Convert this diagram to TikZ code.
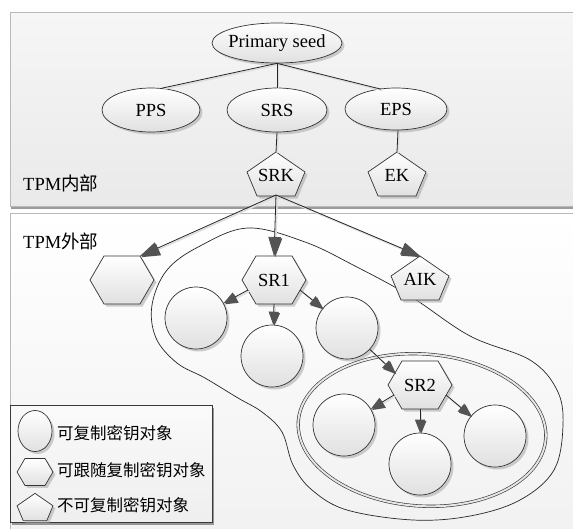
\documentclass[tikz,border=0pt]{standalone}
\usepackage{fontspec}
\setmainfont{Liberation Serif}
\newfontfamily\cjk{Noto Sans CJK SC}
\usetikzlibrary{shapes.geometric,shadows,arrows.meta,calc}

% pentagon key: [scale]{name}{x}{y}{label}
\newcommand\pentshape[5][1]{%
  \begin{scope}[shift={(#3,#4)}, scale=#1]
    \path[shapebox] (0,-22) -- (29,-2) -- (19,22) -- (-19,22) -- (-29,-2) -- cycle;
    \coordinate (#2-t) at (0,-22);
    \coordinate (#2-b) at (0,21);
    \node[lbl] (#2) at (0,1) {#5};
  \end{scope}}

% hexagon key: [scale]{name}{x}{y}{label}
\newcommand\hexshape[5][1]{%
  \begin{scope}[shift={(#3,#4)}, scale=#1]
    \path[shapebox] (-32,0) -- (-18,-24) -- (18,-24) -- (32,0) -- (18,24) -- (-18,24) -- cycle;
    \coordinate (#2-t) at (0,-24);
    \coordinate (#2-b) at (0,24);
    \coordinate (#2-bl) at (-26,10);
    \coordinate (#2-br) at (26,10);
    \coordinate (#2-tl) at (-25,-12);
    \coordinate (#2-tr) at (18,-24);
    \node[lbl] (#2) at (0,0) {#5};
  \end{scope}}

% connector with its light offset shadow
\newcommand\keylink[3][]{%
  \draw[lkshade,#1] (#2) -- (#3);
  \draw[lk,#1] (#2) -- (#3);}

\begin{document}
\begin{tikzpicture}[x=1pt,y=-1pt,
  shapebox/.style={draw=gray!40!black, line width=0.7pt, top color=white, bottom color=gray!24,
    drop shadow={shadow xshift=2.5pt, shadow yshift=-2.5pt, fill=gray!70, opacity=0.55}},
  lbl/.style={font=\fontsize{18.5}{20}\selectfont, inner sep=0pt},
  zh/.style={font=\fontsize{16.5}{18}\selectfont\cjk, inner sep=0pt, anchor=west},
  lkshade/.style={draw=gray!25, line width=1.6pt, transform canvas={xshift=1.2pt,yshift=-1.2pt}},
  lk/.style={draw=gray!30!black, line width=0.8pt},
  bigtip/.style={-{Triangle[length=19pt,width=12.5pt,color=gray!65!black]}},
  smalltip/.style={-{Triangle[length=13pt,width=10pt,color=gray!65!black]}},
  region/.style={draw=gray!55, line width=1pt,
    drop shadow={shadow xshift=1pt, shadow yshift=-3pt, fill=gray!70!black, opacity=0.6}}
]
\useasboundingbox (0,0) rectangle (573,528);

% the two regions
\path[region, top color=gray!7, bottom color=gray!17] (10,12) rectangle (590,206);
\path[region, top color=white, bottom color=gray!11] (10,213) rectangle (590,545);
\node[anchor=west, font=\fontsize{18.5}{20}\selectfont, inner sep=0pt] (tin) at (23,183) {TPM{\cjk 内部}};
\node[anchor=west, font=\fontsize{18.5}{20}\selectfont, inner sep=0pt] (tout) at (23,241) {TPM{\cjk 外部}};

% seeds
\node[ellipse, shapebox, minimum width=130pt, minimum height=40pt, inner sep=0pt] (ps) at (277,43) {};
\node[lbl] (pstext) at (ps) {Primary seed};
\node[ellipse, shapebox, minimum width=98pt, minimum height=44pt, inner sep=0pt] (pps) at (151,110) {};
\node[lbl] (ppstext) at (pps) {PPS};
\node[ellipse, shapebox, minimum width=100pt, minimum height=44pt, inner sep=0pt] (srs) at (277,110) {};
\node[lbl] (srstext) at (srs) {SRS};
\node[ellipse, shapebox, minimum width=102pt, minimum height=42pt, inner sep=0pt] (eps) at (396,109) {};
\node[lbl] (epstext) at (eps) {EPS};

\keylink{ps.south}{$(pps.north)+(11,0.5)$}
\keylink{ps.south}{srs.north}
\keylink{ps.south}{$(eps.north)+(-15,1.5)$}

% the groups of duplicable objects
\draw[gray!30!black, line width=0.7pt] plot[smooth cycle, tension=0.6] coordinates {
  (248,228) (305,242) (355,266) (410,296) (470,336) (530,360) (557,390) (563,425)
  (554,470) (520,500) (470,516) (413,520) (347,510) (312,490) (293,465) (282,432)
  (262,412) (238,398) (205,378) (177,363) (156,338) (152,305) (167,270) (200,246)};
\draw[gray!40!black, line width=0.6pt, double=gray!20, double distance=2pt, rotate around={-4:(422,430)}]
  (422,430) ellipse [x radius=124, y radius=76];

% legend frame
\path[draw=gray!45!black, line width=0.8pt, top color=gray!4, bottom color=gray!13,
  drop shadow={shadow xshift=2pt, shadow yshift=-2.5pt, fill=gray!70!black, opacity=0.6}]
  (10,405) rectangle (212,522);

% circle keys
\node[circle, shapebox, minimum size=62pt, inner sep=0pt] (c1) at (196,318) {};
\node[circle, shapebox, minimum size=62pt, inner sep=0pt] (c2) at (272,356) {};
\node[circle, shapebox, minimum size=62pt, inner sep=0pt] (c3) at (347,328) {};
\node[circle, shapebox, minimum size=62pt, inner sep=0pt] (c4) at (344,425) {};
\node[circle, shapebox, minimum size=62pt, inner sep=0pt] (c5) at (420,464) {};
\node[circle, shapebox, minimum size=62pt, inner sep=0pt] (c6) at (495,436) {};

% polygon keys
\pentshape{srk}{276}{174}{SRK}
\pentshape{ek}{397}{174}{EK}
\pentshape{aik}{420}{278}{AIK}
\hexshape{hx}{122}{280}{}
\hexshape{sr1}{274}{280}{SR1}
\hexshape{sr2}{420}{385}{SR2}

\keylink{srs.south}{srk-t}
\keylink{$(eps.south)+(2,0)$}{ek-t}

\keylink[bigtip]{srk-b}{hx-tr}
\keylink[bigtip]{srk-b}{sr1-t}
\keylink[bigtip]{srk-b}{aik-t}

\keylink[smalltip]{sr1-bl}{c1}
\keylink[smalltip]{sr1-b}{c2}
\keylink[smalltip]{sr1-br}{c3}
\keylink[smalltip]{c3}{sr2-tl}
\keylink[smalltip]{sr2-bl}{c4}
\keylink[smalltip]{sr2-b}{c5}
\keylink[smalltip]{sr2-br}{c6}

% legend entries
\node[ellipse, shapebox, minimum width=34pt, minimum height=41pt, inner sep=0pt] (lc) at (35,431) {};
\hexshape[0.56]{lh}{35}{472}{}
\pentshape[0.62]{lp}{35}{507}{}
\node[zh] (lt1) at (57,433) {可复制密钥对象};
\node[zh] (lt2) at (57,470) {可跟随复制密钥对象};
\node[zh] (lt3) at (57,505) {不可复制密钥对象};
\end{tikzpicture}
\end{document}
